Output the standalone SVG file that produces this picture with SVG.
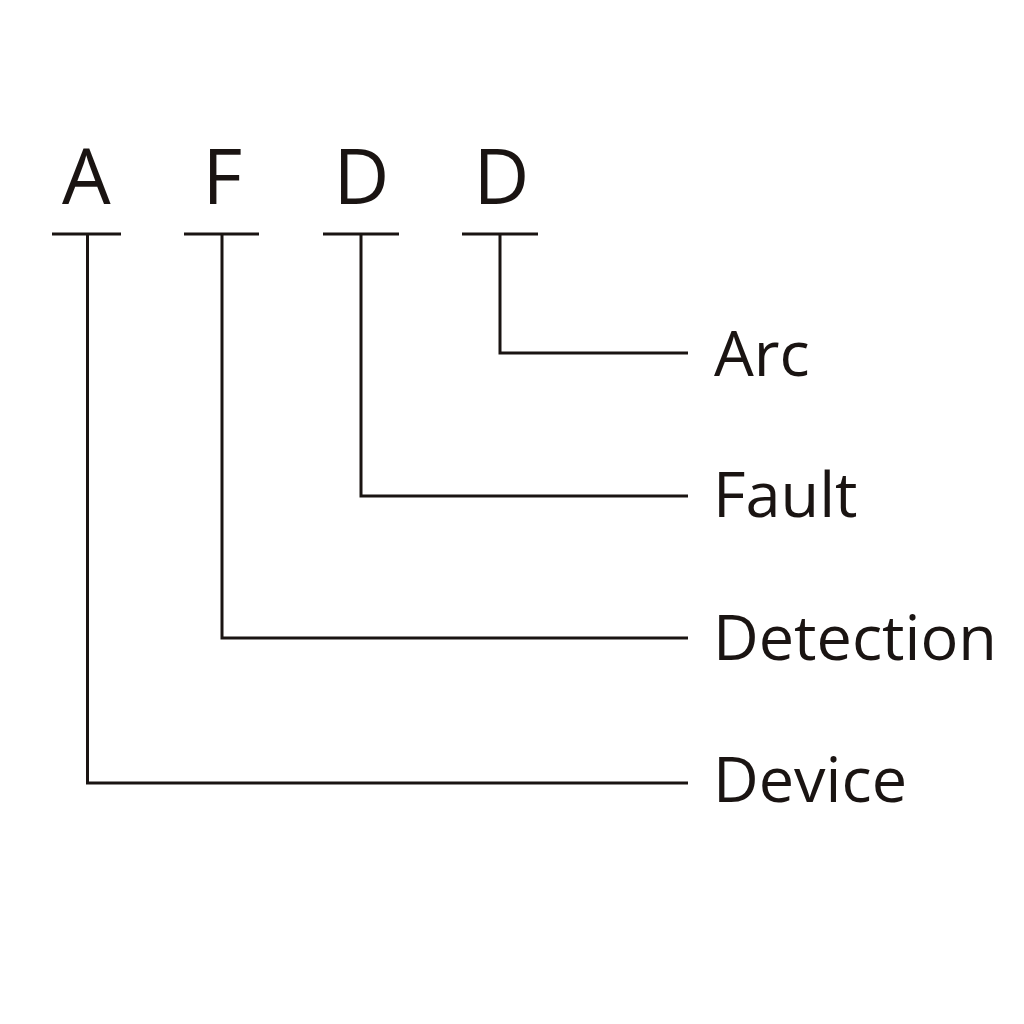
<svg xmlns="http://www.w3.org/2000/svg" width="1024" height="1024" viewBox="0 0 1024 1024">
<style>
.letter{font-family:"Open Sans","Noto Sans",sans-serif;font-size:77px;fill:#1a1412}
.label{font-family:"Open Sans","Noto Sans",sans-serif;font-size:63px;fill:#1a1412}
.ln{stroke:#1a1412;stroke-width:3;fill:none}
</style>
<rect width="1024" height="1024" fill="#ffffff"/>
<g id="connectors">
<path class="ln" d="M52 234H121M87.5 234V783H688"/>
<path class="ln" d="M184 234H259M222 234V638H688"/>
<path class="ln" d="M323 234H399M361 234V496H688"/>
<path class="ln" d="M462 234H538M500 234V353H688"/>
</g>
<g id="letter-A"><text class="letter" x="62" y="204">A</text></g>
<g id="letter-F"><text class="letter" x="202.5" y="204">F</text></g>
<g id="letter-D1"><text class="letter" x="333.5" y="204">D</text></g>
<g id="letter-D2"><text class="letter" x="473.5" y="204">D</text></g>
<g id="label-arc"><text class="label" x="714" y="376">Arc</text></g>
<g id="label-fault"><text class="label" x="713" y="517">Fault</text></g>
<g id="label-detection"><text class="label" x="713" y="660">Detection</text></g>
<g id="label-device"><text class="label" x="713" y="802">Device</text></g>
</svg>
